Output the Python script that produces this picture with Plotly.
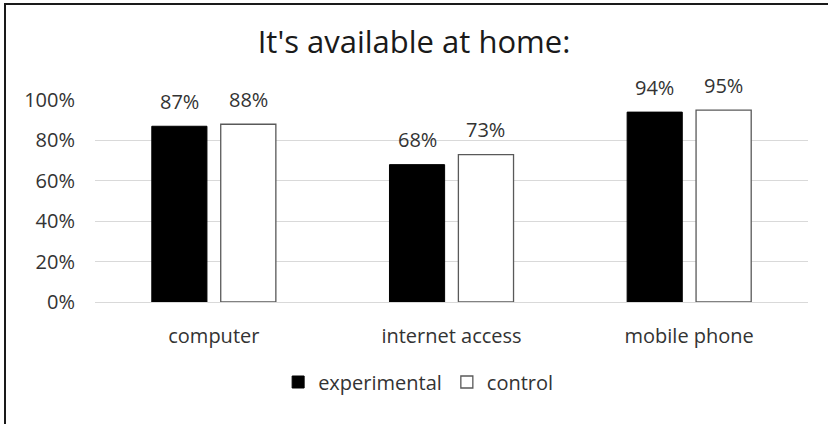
import plotly.graph_objects as go

categories = ["computer", "internet access", "mobile phone"]
experimental = [0.87, 0.68, 0.94]
control = [0.88, 0.73, 0.95]
series_names = ["experimental", "control"]
y_ticks = [0, 0.2, 0.4, 0.6, 0.8, 1.0]
y_tick_labels = ["0%", "20%", "40%", "60%", "80%", "100%"]
title_text = "It's available at home:"

FONT = "Open Sans"
TXT = "#333333"
W, H = 828, 424
ML, MR, MT, MB = 95, 20, 100, 122
BARGAP, GROUPGAP = 0.42, 0.2

fig = go.Figure()
fig.add_trace(go.Bar(x=categories, y=experimental, name=series_names[0],
                     marker=dict(color="#000000", line=dict(color="#000000", width=1))))
fig.add_trace(go.Bar(x=categories, y=control, name=series_names[1],
                     marker=dict(color="#ffffff", line=dict(color="#595959", width=1.3))))

# data labels above bars
off = (1 - BARGAP) / 4
for s, vals in enumerate([experimental, control]):
    for i, v in enumerate(vals):
        fig.add_annotation(x=i + (-off if s == 0 else off), y=v, xref="x", yref="y",
                           text=f"{round(v*100)}%", showarrow=False, yshift=25,
                           font=dict(family=FONT, size=20, color=TXT))

pw = W - ML - MR
ph = H - MT - MB
# chart border (top and left)
fig.add_shape(type="line", xref="paper", yref="paper",
              x0=(4 - ML) / pw, x1=(W - ML) / pw, y0=1 + (MT - 4) / ph, y1=1 + (MT - 4) / ph,
              line=dict(color="#1a1a1a", width=2))
fig.add_shape(type="line", xref="paper", yref="paper",
              x0=(5 - ML) / pw, x1=(5 - ML) / pw, y0=1 + (MT - 3) / ph, y1=-(H - MT - ph) / ph,
              line=dict(color="#1a1a1a", width=2))

fig.update_layout(
    width=W, height=H,
    margin=dict(l=ML, r=MR, t=MT, b=MB),
    paper_bgcolor="white", plot_bgcolor="white",
    barmode="group", bargap=BARGAP, bargroupgap=GROUPGAP,
    title=dict(text=title_text, x=0.5, xref="container", xanchor="center",
               y=1 - 42 / H, yanchor="middle",
               font=dict(family=FONT, size=31, color="#1a1a1a")),
    font=dict(family=FONT, size=20, color=TXT),
    xaxis=dict(showgrid=False, showline=False, ticks="", ticklabelstandoff=20,
               tickfont=dict(family=FONT, size=20, color=TXT)),
    yaxis=dict(range=[0, 1.0], tickvals=y_ticks, ticktext=y_tick_labels,
               showgrid=True, gridcolor="#d9d9d9", gridwidth=1, zeroline=True,
               zerolinecolor="#d9d9d9", zerolinewidth=1, showline=False,
               ticks="", ticklabelstandoff=19,
               tickfont=dict(family=FONT, size=20, color=TXT)),
    legend=dict(orientation="h", xref="container", yref="container",
                x=0.505, xanchor="center", y=1 - 382 / H, yanchor="middle",
                itemwidth=30, font=dict(family=FONT, size=20, color=TXT),
                traceorder="normal"),
    showlegend=True,
)

fig.write_html("out.html")
